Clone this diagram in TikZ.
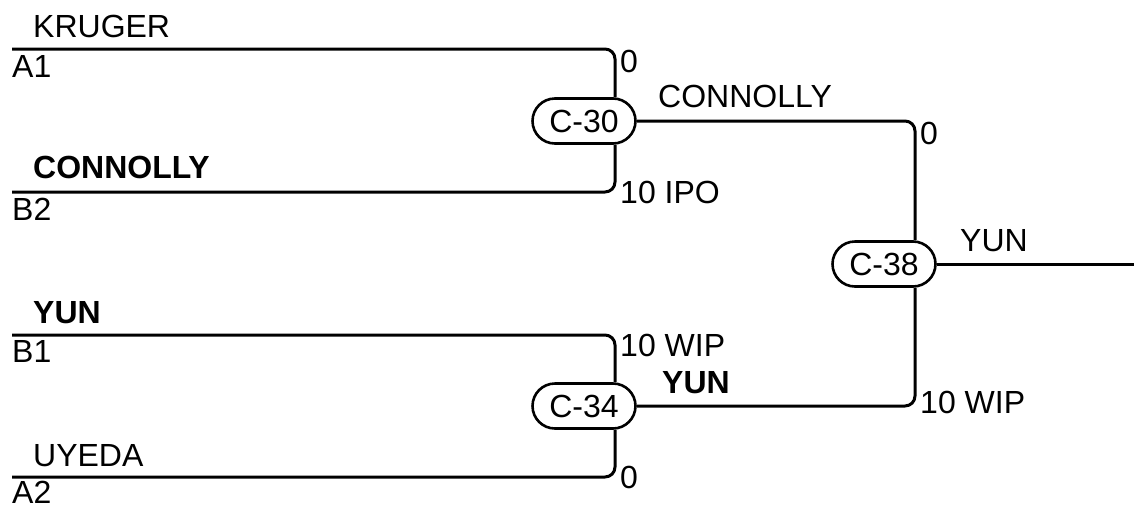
\documentclass[tikz,border=0pt]{standalone}
\usepackage{fontspec}
\setmainfont{Liberation Sans}
\usetikzlibrary{shapes.misc}
\tikzset{
  wire/.style={line width=3pt, rounded corners=10pt},
  gate/.style={rounded rectangle, draw, line width=2.6pt, minimum width=103pt, minimum height=45pt, inner sep=0pt},
  lbl/.style={anchor=base west, inner sep=0pt},
  every node/.style={font=\fontsize{32}{38}\selectfont}
}
\begin{document}
\begin{tikzpicture}[x=1pt, y=-1pt]
\useasboundingbox (0,0) rectangle (1134,504);
% games
\node[gate] (c30) at (584,121) {C-30};
\node[gate] (c34) at (584,406) {C-34};
\node[gate] (c38) at (884,264) {C-38};
% line starts
\coordinate (a1) at (12,49);
\coordinate (b2) at (12,192);
\coordinate (b1) at (12,335);
\coordinate (a2) at (12,477);
\coordinate (out) at (1134,264);
% connectors
\draw[wire] (a1) -| ([xshift=31pt]c30.north);
\draw[wire] (b2) -| ([xshift=31pt]c30.south);
\draw[wire] (b1) -| ([xshift=31pt]c34.north);
\draw[wire] (a2) -| ([xshift=31pt]c34.south);
\draw[wire] (c30.east) -| ([xshift=31pt]c38.north);
\draw[wire] (c34.east) -| ([xshift=31pt]c38.south);
\draw[wire] (c38.east) -- (out);
% team labels
\node[lbl] (kruger) at (33,37) {KRUGER};
\node[lbl] (la1) at (12,77) {A1};
\node[lbl] (conb) at (33,178) {\bfseries CONNOLLY};
\node[lbl] (lb2) at (12,220) {B2};
\node[lbl] (yunb) at (33,323) {\bfseries YUN};
\node[lbl] (lb1) at (12,362) {B1};
\node[lbl] (uyeda) at (33,466) {UYEDA};
\node[lbl] (la2) at (12,503) {A2};
% scores
\node[lbl] (s1) at (620,72) {0};
\node[lbl] (s2) at (620,203) {10 IPO};
\node[lbl] (s3) at (620,356) {10 WIP};
\node[lbl] (s4) at (620,488) {0};
\node[lbl] (s5) at (920,144) {0};
\node[lbl] (s6) at (920,413) {10 WIP};
% winners
\node[lbl] (w30) at (658,107) {CONNOLLY};
\node[lbl] (w34) at (662,393) {\bfseries YUN};
\node[lbl] (w38) at (960,251) {YUN};
\end{tikzpicture}
\end{document}
